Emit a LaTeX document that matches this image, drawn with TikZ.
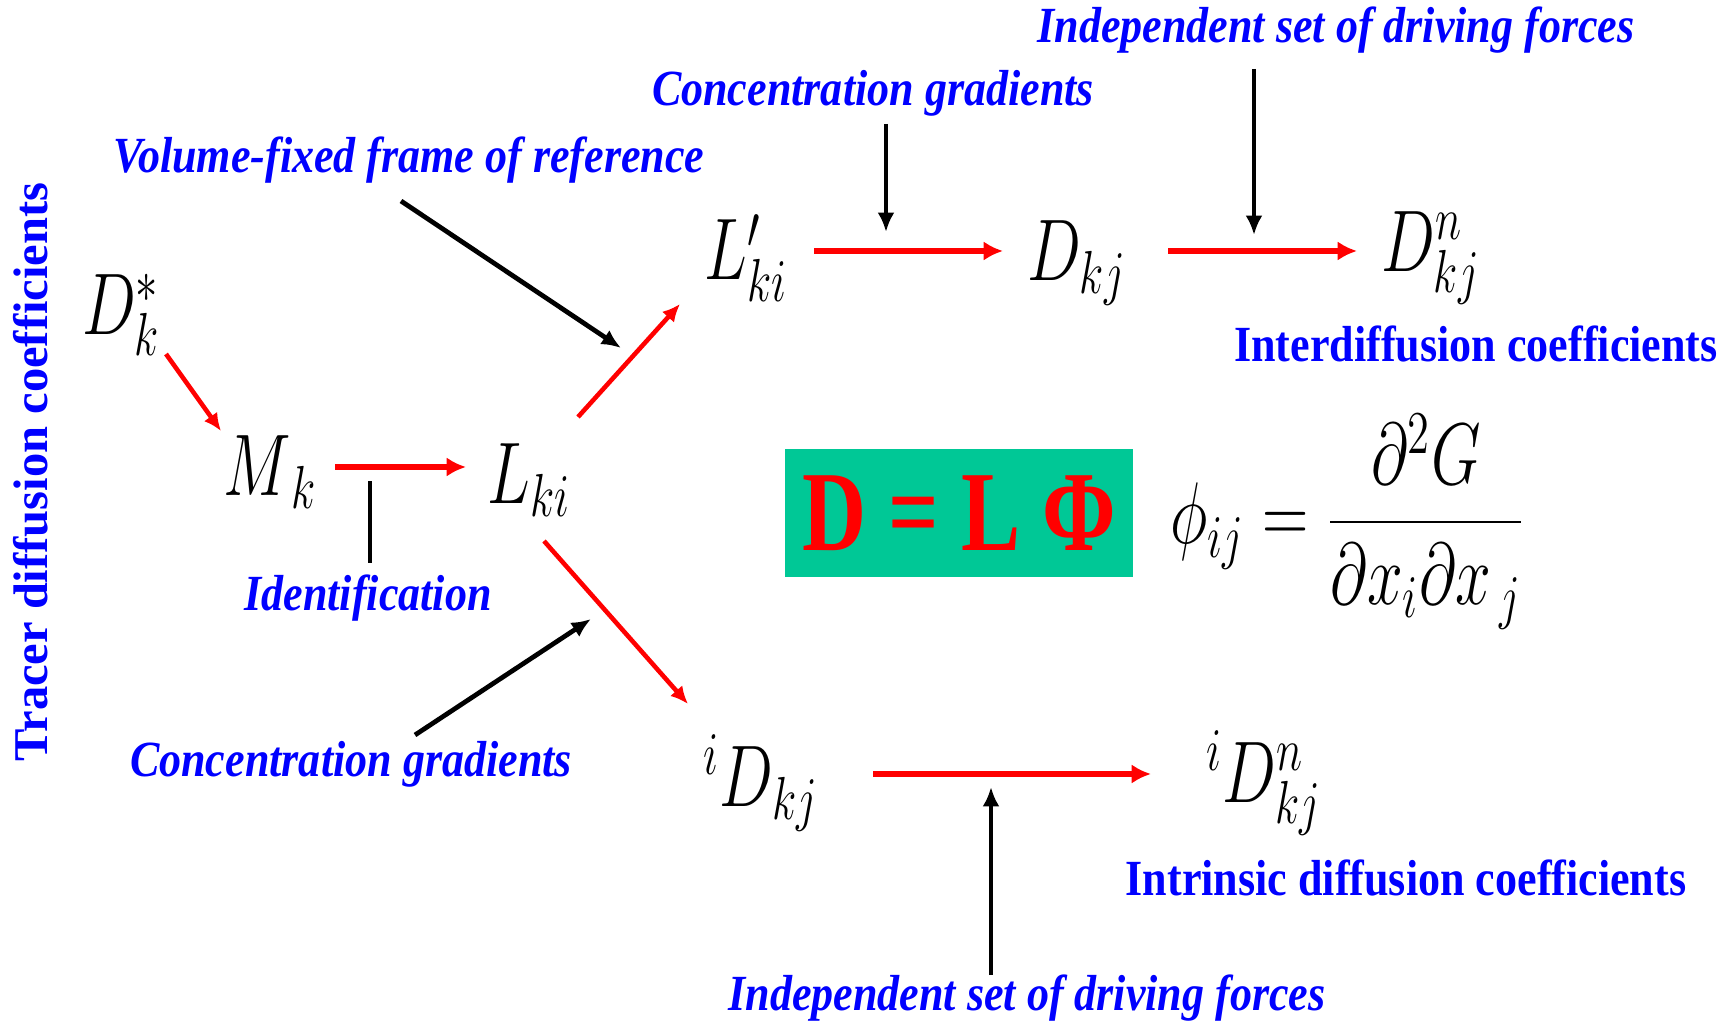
\documentclass[tikz,border=0pt]{standalone}
\usepackage{graphicx}
\usepackage{fontspec}
\setmainfont{Liberation Serif}
\newfontfamily\lblfont{Liberation Serif}[FakeStretch=0.87]
\usetikzlibrary{arrows.meta}
\definecolor{labelBlue}{HTML}{0000FF}
\definecolor{arrowRed}{HTML}{FF0000}
\definecolor{boxGreen}{HTML}{00C896}
\newcommand{\tallmath}[1]{\scalebox{0.88}[1.2]{$#1$}}

\begin{document}
\begin{tikzpicture}[>=Latex, x=0.01cm, y=-0.01cm,
    sym/.style={inner sep=0pt, font=\fontsize{21}{25}\selectfont},
    lbl/.style={color=labelBlue, inner sep=0pt, font=\fontsize{14.4}{17}\lblfont\bfseries\itshape},
    heading/.style={color=labelBlue, inner sep=0pt, font=\fontsize{14.4}{17}\lblfont\bfseries},
    flow/.style={color=arrowRed, line width=1.7pt, -{Latex[length=5.5pt,width=5.5pt]}},
    flowthin/.style={color=arrowRed, line width=1.3pt, -{Latex[length=5pt,width=4.6pt]}},
    pointer/.style={color=black, line width=1.35pt, -{Latex[length=5.5pt,width=4.8pt]}},
    stem/.style={color=black, line width=1.35pt}]

    \useasboundingbox (0,0) rectangle (1733,1022);

    % vertical caption
    \node[heading, font=\fontsize{13.8}{16}\selectfont\bfseries, rotate=90] (tracer) at (31,472) {Tracer diffusion coefficients};

    % coefficients
    \node[sym] (Dstar) at (121,315) {\tallmath{D_k^{*}}};
    \node[sym] (Mk) at (270,472) {\tallmath{M_{\,k}}};
    \node[sym] (Lki) at (529,480) {\tallmath{L_{ki}}};
    \node[sym] (Lp) at (746,258) {\tallmath{L^{\prime}_{ki}}};
    \node[sym] (Dkj) at (1077,263) {\tallmath{D_{kj}}};
    \node[sym] (Dn) at (1431,258) {\tallmath{D^{n}_{kj}}};
    \node[sym] (iD) at (761,783) {\tallmath{{}^{i}D_{kj}}};
    \node[sym] (iDn) at (1264,783) {\tallmath{{}^{i}D^{n}_{kj}}};

    % main relation
    \node[fill=boxGreen, inner sep=0pt, minimum width=3.48cm, minimum height=1.27cm,
          text=arrowRed, font=\fontsize{29}{34}\lblfont\bfseries] (rel) at (959,513)
        {\scalebox{1}[1.12]{D = L Φ}};
    \node[sym, anchor=base west] (phi) at (1170,544)
        {\tallmath{\phi_{ij} = \displaystyle\frac{\partial^{2}G}{\partial x_{i}\partial x_{\,j}}}};

    % labels
    \node[lbl] (vol) at (409,160) {Volume-fixed frame of reference};
    \node[lbl] (cgTop) at (873,93) {Concentration gradients};
    \node[lbl] (indTop) at (1336,30) {Independent set of driving forces};
    \node[heading] (inter) at (1476,344) {Interdiffusion coefficients};
    \node[lbl] (ident) at (368,598) {Identification};
    \node[lbl] (cgBot) at (351,764) {Concentration gradients};
    \node[heading] (intr) at (1406,878) {Intrinsic diffusion coefficients};
    \node[lbl] (indBot) at (1027,998) {Independent set of driving forces};

    % tips of the black pointers
    \coordinate (volTip) at (621,348);
    \coordinate (cgTopTip) at (886,232);
    \coordinate (indTopTip) at (1254,235);
    \coordinate (identTop) at (370,481);
    \coordinate (cgBotTip) at (591,619);
    \coordinate (indBotTip) at (991,787);

    % red flow
    \draw[flowthin] ([shift={(45,39)}]Dstar.center) -- ([shift={(-49,-41)}]Mk.center);
    \draw[flow] ([shift={(65,-5)}]Mk.center) -- ([shift={(-63,-13)}]Lki.center);
    \draw[flowthin] ([shift={(49,-63)}]Lki.center) -- ([shift={(-66,46)}]Lp.center);
    \draw[flowthin] ([shift={(15,61)}]Lki.center) -- ([shift={(-73,-79)}]iD.center);
    \draw[flow] ([shift={(68,-7)}]Lp.center) -- ([shift={(-74,-12)}]Dkj.center);
    \draw[flow] ([shift={(91,-12)}]Dkj.center) -- ([shift={(-74,-7)}]Dn.center);
    \draw[flow] ([shift={(112,-9)}]iD.center) -- ([shift={(-113,-9)}]iDn.center);

    % black pointers
    \draw[pointer] ([shift={(-8,41)}]vol.center) -- (volTip);
    \draw[pointer] ([shift={(13,31)}]cgTop.center) -- (cgTopTip);
    \draw[pointer] ([shift={(-82,39)}]indTop.center) -- (indTopTip);
    \draw[stem] ([shift={(2,-35)}]ident.center) -- (identTop);
    \draw[pointer] ([shift={(64,-29)}]cgBot.center) -- (cgBotTip);
    \draw[pointer] ([shift={(-36,-23)}]indBot.center) -- (indBotTip);

\end{tikzpicture}
\end{document}
